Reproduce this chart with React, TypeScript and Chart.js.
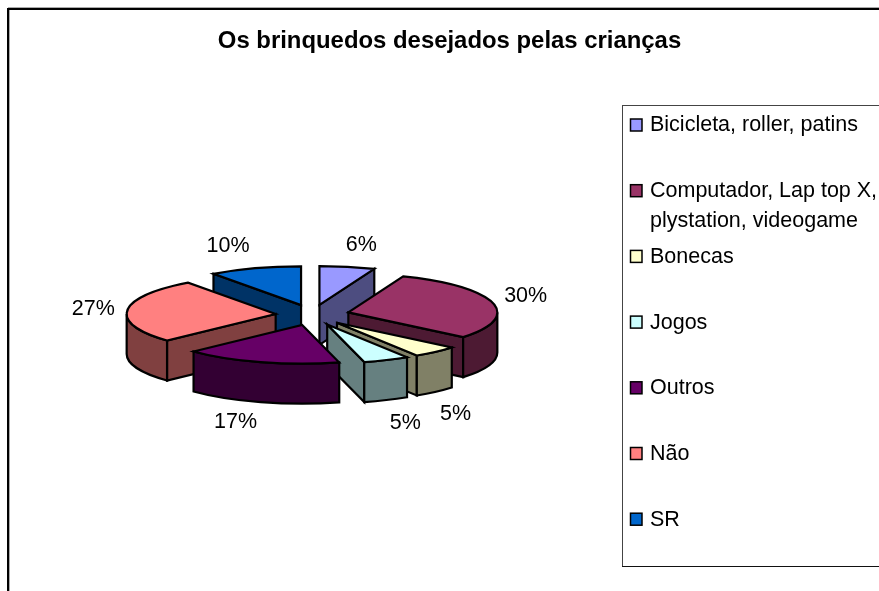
import React, { useEffect, useRef } from "react";
import { Chart, registerables } from "chart.js";

Chart.register(...registerables);

const chartTitle = "Os brinquedos desejados pelas crianças";
const categories = [
  "Bicicleta, roller, patins",
  "Computador, Lap top X,\nplystation, videogame",
  "Bonecas",
  "Jogos",
  "Outros",
  "Não",
  "SR",
];
const shares = [6, 30, 5, 5, 17, 27, 10];
const colors = ["#9999FF", "#993366", "#FFFFCC", "#CCFFFF", "#660066", "#FF8080", "#0066CC"];

// Drawing style of the tilted pie (not data)
const FONT = '"Liberation Sans", Arial, sans-serif';
const TILT = 0.26;
const OFFSET_TILT = 0.28;
const DEPTH = 40;
const EXPLODE = 37;
const RADIUS = 149;
const LABEL_NUDGE = [
  [14, -22],
  [33, -7],
  [20, 62],
  [19, 63],
  [-25, 60],
  [-34, -1],
  [-27, -22],
];
const LEGEND_ROW_Y = 125;
const LEGEND_ROW_STEP = 65.7;

function halve(hex: string) {
  const n = parseInt(hex.slice(1), 16);
  const c = [(n >> 16) & 255, (n >> 8) & 255, n & 255].map((v) => Math.round(v / 2));
  return `rgb(${c[0]},${c[1]},${c[2]})`;
}

const tiltedPie = {
  id: "tiltedPie",
  beforeDatasetsDraw(chart: any) {
    const { ctx } = chart;
    const arcs = chart.getDatasetMeta(0).data as any[];
    const geo = arcs.map((a, i) => {
      const mid = (a.startAngle + a.endAngle) / 2;
      return {
        i,
        s: a.startAngle,
        e: a.endAngle,
        mid,
        r: a.outerRadius,
        cx: a.x + Math.cos(mid) * a.options.offset,
        cy: a.y + Math.sin(mid) * a.options.offset * OFFSET_TILT,
        fill: a.options.backgroundColor,
      };
    });
    ctx.save();
    ctx.lineWidth = 2.2;
    ctx.strokeStyle = "#000";
    ctx.lineJoin = "miter";

    const wall = (g: any, t: number) => {
      const x = g.cx + g.r * Math.cos(t);
      const y = g.cy + g.r * TILT * Math.sin(t);
      ctx.beginPath();
      ctx.moveTo(g.cx, g.cy);
      ctx.lineTo(x, y);
      ctx.lineTo(x, y + DEPTH);
      ctx.lineTo(g.cx, g.cy + DEPTH);
      ctx.closePath();
      ctx.fill();
      ctx.stroke();
    };

    const order = [...geo].sort((p, q) => Math.sin(p.mid) - Math.sin(q.mid));
    for (const g of order) {
      ctx.fillStyle = halve(g.fill);
      if (Math.cos(g.s) < 0) wall(g, g.s);
      if (Math.cos(g.e) > 0) wall(g, g.e);
      const a = Math.max(g.s, 0);
      const b = Math.min(g.e, Math.PI);
      if (b > a) {
        ctx.beginPath();
        ctx.ellipse(g.cx, g.cy, g.r, g.r * TILT, 0, a, b);
        ctx.ellipse(g.cx, g.cy + DEPTH, g.r, g.r * TILT, 0, b, a, true);
        ctx.closePath();
        ctx.fill();
        ctx.stroke();
      }
    }
    for (const g of order) {
      ctx.fillStyle = g.fill;
      ctx.beginPath();
      ctx.moveTo(g.cx, g.cy);
      ctx.ellipse(g.cx, g.cy, g.r, g.r * TILT, 0, g.s, g.e);
      ctx.closePath();
      ctx.fill();
      ctx.stroke();
    }

    // percentage labels
    ctx.fillStyle = "#000";
    ctx.font = `21.5px ${FONT}`;
    ctx.textAlign = "center";
    ctx.textBaseline = "middle";
    const total = shares.reduce((p, v) => p + v, 0);
    geo.forEach((g) => {
      const px = g.cx + g.r * Math.cos(g.mid) + LABEL_NUDGE[g.i][0];
      const py = g.cy + g.r * TILT * Math.sin(g.mid) + LABEL_NUDGE[g.i][1];
      ctx.fillText(`${Math.round((shares[g.i] / total) * 100)}%`, px, py);
    });
    ctx.restore();
    return false;
  },
  afterDraw(chart: any) {
    const { ctx } = chart;
    ctx.save();
    // outer frame, cut by the picture's right and bottom edges
    ctx.fillStyle = "#aaa";
    ctx.fillRect(8, 7, 871, 1);
    ctx.fillRect(9, 8, 1, 583);
    ctx.fillStyle = "#000";
    ctx.fillRect(8, 8, 871, 2);
    ctx.fillRect(7, 8, 2, 583);

    // title
    ctx.font = `bold 23.9px ${FONT}`;
    ctx.textAlign = "center";
    ctx.textBaseline = "middle";
    ctx.fillText(chartTitle, 449.5, 41);

    // legend frame
    ctx.fillStyle = "#444";
    ctx.fillRect(622, 105, 257, 1);
    ctx.fillRect(622, 105, 1, 462);
    ctx.fillStyle = "#111";
    ctx.fillRect(622, 566, 257, 1);

    // legend rows
    ctx.font = `21.5px ${FONT}`;
    ctx.textAlign = "left";
    categories.forEach((name, i) => {
      const y = LEGEND_ROW_Y + i * LEGEND_ROW_STEP;
      ctx.fillStyle = colors[i];
      ctx.strokeStyle = "#000";
      ctx.lineWidth = 1.5;
      ctx.fillRect(630.5, y - 6, 11.5, 12);
      ctx.strokeRect(630.5, y - 6, 11.5, 12);
      ctx.fillStyle = "#000";
      name.split("\n").forEach((line, k) => {
        ctx.fillText(line, 650, y + k * 30 + 0.5);
      });
    });
    ctx.restore();
  },
};

export default function App() {
  const ref = useRef<HTMLCanvasElement>(null);
  useEffect(() => {
    const chart = new Chart(ref.current as HTMLCanvasElement, {
      type: "pie",
      data: {
        labels: categories,
        datasets: [
          {
            data: shares,
            backgroundColor: colors,
            offset: EXPLODE,
            radius: RADIUS,
          } as any,
        ],
      },
      options: {
        animation: false,
        responsive: false,
        layout: { padding: { left: 0, right: 254, top: 60, bottom: 21 } },
        plugins: {
          legend: { display: false },
          title: { display: false },
          tooltip: { enabled: false },
        },
      },
      plugins: [tiltedPie],
    } as any);
    return () => chart.destroy();
  }, []);
  return (
    <div style={{ position: "fixed", left: 0, top: 0, width: 879, height: 591, overflow: "hidden", background: "#fff" }}>
      <canvas ref={ref} width={879} height={591} style={{ display: "block" }} />
    </div>
  );
}
